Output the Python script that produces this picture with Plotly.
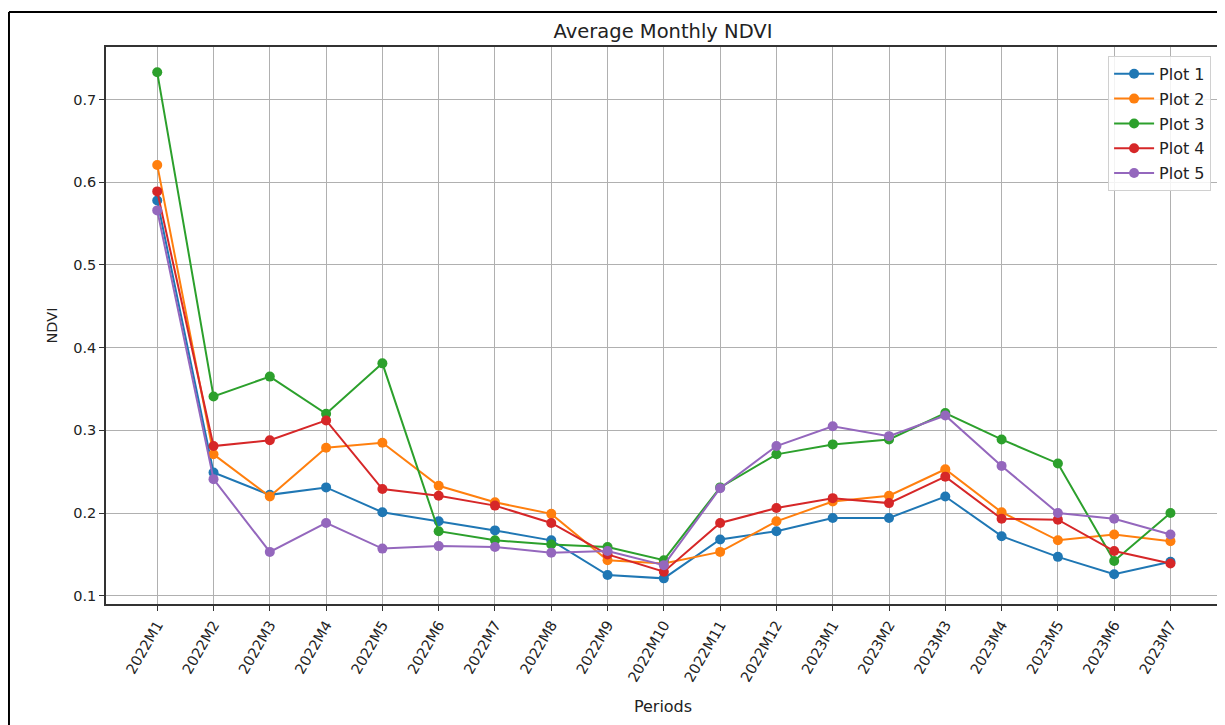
import plotly.graph_objects as go

periods = ["2022M1", "2022M2", "2022M3", "2022M4", "2022M5", "2022M6", "2022M7",
           "2022M8", "2022M9", "2022M10", "2022M11", "2022M12", "2023M1", "2023M2",
           "2023M3", "2023M4", "2023M5", "2023M6", "2023M7"]

plot1 = [0.578, 0.249, 0.222, 0.231, 0.201, 0.190, 0.179, 0.167, 0.125, 0.121,
         0.168, 0.178, 0.194, 0.194, 0.220, 0.172, 0.147, 0.126, 0.141]
plot2 = [0.621, 0.271, 0.220, 0.279, 0.285, 0.233, 0.213, 0.199, 0.143, 0.139,
         0.153, 0.190, 0.214, 0.221, 0.253, 0.201, 0.167, 0.174, 0.166]
plot3 = [0.733, 0.341, 0.365, 0.320, 0.381, 0.178, 0.167, 0.162, 0.159, 0.143,
         0.231, 0.271, 0.283, 0.289, 0.321, 0.289, 0.260, 0.142, 0.200]
plot4 = [0.589, 0.281, 0.288, 0.312, 0.229, 0.221, 0.209, 0.188, 0.150, 0.129,
         0.188, 0.206, 0.218, 0.212, 0.244, 0.193, 0.192, 0.154, 0.139]
plot5 = [0.566, 0.241, 0.153, 0.188, 0.157, 0.160, 0.159, 0.152, 0.154, 0.137,
         0.230, 0.281, 0.305, 0.293, 0.318, 0.257, 0.200, 0.193, 0.174]

series = [("Plot 1", plot1, "#1f77b4"), ("Plot 2", plot2, "#ff7f0e"),
          ("Plot 3", plot3, "#2ca02c"), ("Plot 4", plot4, "#d62728"),
          ("Plot 5", plot5, "#9467bd")]

font_family = "DejaVu Sans, sans-serif"

fig = go.Figure()
for name, vals, color in series:
    fig.add_trace(go.Scatter(
        x=periods, y=vals, name=name, mode="lines+markers", legendgroup=name,
        line=dict(color=color, width=2),
        marker=dict(color=color, size=10),
    ))

axis_common = dict(
    showgrid=True, gridcolor="#b0b0b0", gridwidth=1,
    showline=True, linecolor="#333333", linewidth=1.5, mirror=True,
    ticks="outside", ticklen=5, tickcolor="#333333",
    tickfont=dict(family=font_family, size=14.5, color="#222222"),
    zeroline=False,
)

fig.update_layout(
    width=1225, height=725,
    paper_bgcolor="white", plot_bgcolor="white",
    margin=dict(l=98, r=13, t=39, b=129),
    font=dict(family=font_family, size=14.5, color="#222222"),
    title=dict(text="Average Monthly NDVI", x=0.5, xref="paper", xanchor="center",
               y=1 - 23 / 725, yref="container", yanchor="middle",
               font=dict(family=font_family, size=19.5, color="#222222")),
    xaxis=dict(**axis_common, type="category", range=[-0.91, 18.88], tickangle=-60,
               title=dict(text="Periods", standoff=17,
                          font=dict(family=font_family, size=16))),
    yaxis=dict(**axis_common, range=[0.090, 0.7636], tickvals=[0.1, 0.2, 0.3, 0.4, 0.5, 0.6, 0.7],
               ticktext=["0.1", "0.2", "0.3", "0.4", "0.5", "0.6", "0.7"],
               title=dict(text="NDVI", standoff=12,
                          font=dict(family=font_family, size=14.5))),
    legend=dict(x=0.992, y=0.984, xanchor="right", yanchor="top",
                tracegroupgap=1, traceorder="grouped", itemwidth=40,
                bgcolor="rgba(255,255,255,0.85)", bordercolor="#d0d0d0", borderwidth=1,
                font=dict(family=font_family, size=16, color="#222222")),
    showlegend=True,
)

# outer frame of the screenshot (left and top edges)
fig.add_shape(type="line", xref="paper", yref="paper",
              x0=-0.0871, x1=-0.0871, y0=-0.24, y1=1.0628,
              line=dict(color="black", width=2))
fig.add_shape(type="line", xref="paper", yref="paper",
              x0=-0.0871, x1=1.02, y0=1.0628, y1=1.0628,
              line=dict(color="black", width=2))

fig.write_html("out.html")
